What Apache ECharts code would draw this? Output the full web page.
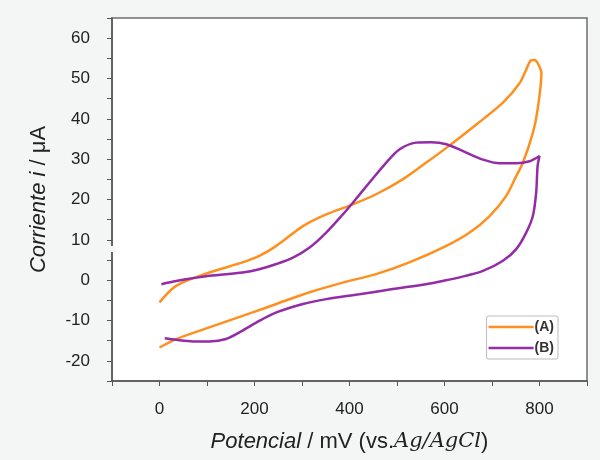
<!DOCTYPE html>
<html>
<head>
<meta charset="utf-8">
<script src="https://cdn.jsdelivr.net/npm/echarts@6/dist/echarts.min.js"></script>
<style>html,body{margin:0;padding:0;background:#f4f5f5;}#main{width:600px;height:460px;}</style>
</head>
<body>
<div id="main"></div>
<script>
// potencial (mV) / corriente (uA), barrido completo de cada curva
var potA = [0, 35, 105, 175, 210, 246, 302, 351, 407, 456, 512, 561, 604, 667, 723, 758, 772, 782, 790, 798, 804,
	796, 786, 765, 751, 730, 695, 653, 604, 526, 456, 386, 316, 246, 196, 105, 35, 0];
var curA = [-5.5, -1.4, 1.9, 4.4, 6.0, 8.5, 13.4, 16.3, 18.8, 21.3, 25.0, 29.1, 32.8, 38.6, 44.0, 48.8, 52.2, 54.5, 54.6, 53.4, 51.3,
	42.3, 36.5, 29.1, 25.8, 20.9, 15.9, 11.8, 8.5, 4.4, 1.5, -0.6, -3.0, -5.9, -8.0, -11.7, -14.6, -16.7];

var potB = [4, 35, 105, 175, 210, 246, 281, 316, 351, 386, 407, 442, 477, 505, 540, 572, 604, 639, 681, 716, 751, 779, 800,
	796, 793, 786, 772, 751, 723, 681, 632, 596, 561, 491, 421, 351, 302, 246, 210, 175, 140, 105, 70, 35, 11];
var curB = [-1.0, -0.2, 1.1, 1.9, 2.7, 4.0, 5.6, 8.1, 11.8, 16.3, 19.2, 24.2, 29.1, 32.4, 34.1, 34.2, 33.7, 32.0, 29.9, 29.0, 29.0, 29.5, 30.8,
	28.3, 21.7, 15.9, 11.8, 7.7, 4.8, 2.3, 0.7, -0.2, -1.0, -2.2, -3.5, -4.7, -5.9, -8.0, -10.1, -12.5, -14.6, -15.2, -15.2, -14.8, -14.4];

var seriesNames = ['(A)', '(B)'];

function pares(xs, ys){
	var out = [];
	for (var i = 0; i < xs.length; i++) out.push([xs[i], ys[i]]);
	return out;
}

var chart = echarts.init(document.getElementById('main'));
chart.setOption({
	backgroundColor:'#f4f5f5',
	animation:false,
	grid:{
		left:112, top:18, right:13, bottom:79,
		show:true,
		backgroundColor:'#fff',
		borderColor:'#6e6e6e',
		borderWidth:1.5,
	},
	legend:{
		data:[
			{name:'(A)', icon:'rect'},
			{name:'(B)', icon:'rect'}
		],
		orient:'vertical',
		right:42, top:316,
		itemWidth:45, itemHeight:2.5,
		itemGap:7,
		padding:[4,4,4,2],
		borderColor:'#bbb',
		borderWidth:1,
		borderRadius:2,
		backgroundColor:'#fff',
		textStyle:{fontSize:14, fontWeight:'bold', color:'#333', padding:[0,0,0,-4]},
	},
	xAxis:{
		type:'value',
		min:-100, max:900, interval:100,
		splitLine:{show:false},
		axisLine:{onZero:false, lineStyle:{color:'#555', width:1.5}},
		axisTick:{length:5, lineStyle:{color:'#555'}},
		axisLabel:{
			fontSize:17, color:'#222', margin:20,
			fontFamily:'Liberation Sans, Arial, sans-serif',
			formatter:function(v){ return (v >= 0 && v <= 800 && v % 200 === 0) ? String(v) : ''; }
		},
		name:'{it|Potencial} / mV (vs.{m|Ag/AgCl})',
		nameLocation:'middle',
		nameGap:50,
		nameTextStyle:{
			fontSize:22, color:'#222', fontFamily:'Liberation Sans, Arial, sans-serif',
			rich:{
				it:{fontSize:22, fontStyle:'italic', color:'#222', fontFamily:'Liberation Sans, Arial, sans-serif'},
				m:{fontSize:21, fontStyle:'italic', color:'#222', fontFamily:'DejaVu Serif, serif'}
			}
		}
	},
	yAxis:{
		type:'value',
		min:-25, max:65, interval:5,
		splitLine:{show:false},
		axisLine:{onZero:false, lineStyle:{color:'#555', width:1.5}},
		axisTick:{length:5, lineStyle:{color:'#555'}},
		axisLabel:{
			fontSize:17, color:'#222', margin:22,
			fontFamily:'Liberation Sans, Arial, sans-serif',
			formatter:function(v){ return (v % 10 === 0 && v >= -20 && v <= 60) ? String(v) : ''; }
		},
		name:'{it|Corriente i} / μA',
		nameLocation:'middle',
		nameGap:62,
		nameTextStyle:{
			fontSize:22, color:'#222', fontFamily:'Liberation Sans, Arial, sans-serif',
			rich:{
				it:{fontSize:22, fontStyle:'italic', color:'#222', fontFamily:'Liberation Sans, Arial, sans-serif'}
			}
		}
	},
	graphic:[{
		type:'rect',
		shape:{x:109, y:246, width:6, height:6},
		style:{fill:'#f4f5f5'},
		z:100
	}],
	series:[{
		name:seriesNames[0],
		type:'line',
		data:pares(potA, curA),
		smooth:0.3,
		symbol:'none',
		lineStyle:{color:'#ff8f1f', width:2.5},
		itemStyle:{color:'#ff8f1f'}
	},{
		name:seriesNames[1],
		type:'line',
		data:pares(potB, curB),
		smooth:0.3,
		symbol:'none',
		lineStyle:{color:'#932ca6', width:2.5},
		itemStyle:{color:'#932ca6'}
	}]
});
</script>
</body>
</html>
